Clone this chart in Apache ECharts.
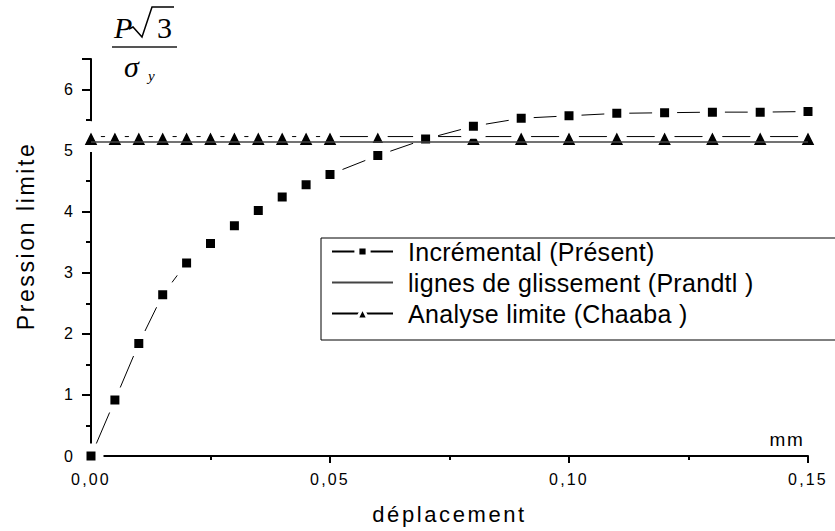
<!DOCTYPE html>
<html>
<head>
<meta charset="UTF-8" />
<title>Pression limite</title>
<script src="https://cdn.jsdelivr.net/npm/echarts@6/dist/echarts.min.js"></script>
<style>
  body { margin: 0; padding: 0; background: #fff; }
  #main { width: 835px; height: 531px; }
  /* Origin export spaces its letters out a bit */
  #main text[style*="16px"] { letter-spacing: 2.2px; }
  #main text[style*="22px"] { letter-spacing: 2.6px; }
  #main text[style*="23px"] { letter-spacing: 2.6px; }
  #main text[style*="25px"] { letter-spacing: 0.3px; }
  #main text[style*="19px"] { letter-spacing: 1.6px; }
  #main text[style*="Serif"] { letter-spacing: 0; }
</style>
</head>
<body>
<div id="main"></div>
<script>
  // displacement (mm)
  var dispX = [0, 0.005, 0.01, 0.015, 0.02, 0.025, 0.03, 0.035, 0.04, 0.045, 0.05,
               0.06, 0.07, 0.08, 0.09, 0.10, 0.11, 0.12, 0.13, 0.14, 0.15];
  var incremental = [0, 0.915, 1.84, 2.64, 3.16, 3.48, 3.77, 4.02, 4.24, 4.44, 4.61,
                     4.92, 5.19, 5.40, 5.53, 5.57, 5.61, 5.62, 5.63, 5.63, 5.64];
  var chaaba = 5.23;
  var prandtl = 5.14;
  var prandtlX = [0, 0.15];
  var names = ["Incrémental (Présent)", "lignes de glissement (Prandtl )", "Analyse limite (Chaaba )"];

  var sans = "Liberation Sans";
  var chart = echarts.init(document.getElementById("main"), null, { renderer: "svg" });

  var option = {
    animation: false,
    backgroundColor: "#fff",
    grid: { left: 91, right: 27, top: 59, bottom: 75 },
    legend: {
      orient: "vertical",
      left: 321,
      top: 238,
      data: [
        { name: names[0], itemStyle: { borderWidth: 5, borderColor: "#fff" } },
        { name: names[1], itemStyle: { opacity: 0, borderWidth: 0 } },
        { name: names[2], itemStyle: { borderWidth: 3, borderColor: "#fff" } }
      ],
      itemWidth: 61,
      itemHeight: 14,
      itemGap: 6,
      padding: [1, 320, 14, 10],
      borderColor: "#000",
      borderWidth: 1,
      backgroundColor: "#fff",
      textStyle: { fontFamily: sans, fontSize: 25, color: "#000", padding: [0, 0, 0, 10] }
    },
    xAxis: {
      type: "value",
      min: 0,
      max: 0.15,
      interval: 0.05,
      name: "déplacement",
      nameLocation: "middle",
      nameGap: 47,
      nameTextStyle: { fontFamily: sans, fontSize: 22, color: "#000" },
      axisLine: { lineStyle: { color: "#000", width: 2 } },
      axisTick: { inside: false, length: 7, lineStyle: { color: "#000", width: 2 } },
      minorTick: { show: true, splitNumber: 2, length: 4, lineStyle: { color: "#000", width: 2 } },
      splitLine: { show: false },
      axisLabel: {
        margin: 15,
        fontFamily: sans,
        fontSize: 16,
        color: "#000",
        formatter: function (v) { return v.toFixed(2).replace(".", ","); }
      }
    },
    yAxis: {
      type: "value",
      min: 0,
      max: 6.5,
      interval: 1,
      axisLine: { show: true, lineStyle: { color: "#000", width: 2 } },
      axisTick: { show: true, length: 9, lineStyle: { color: "#000", width: 2 } },
      minorTick: { show: true, splitNumber: 2, length: 5, lineStyle: { color: "#000", width: 2 } },
      splitLine: { show: false },
      axisLabel: { margin: 16, fontFamily: sans, fontSize: 16, color: "#000", showMaxLabel: false }
    },
    graphic: [
      // y axis title sits above the middle of the axis in the original
      { type: "text", x: 26, y: 236, rotation: Math.PI / 2, style: { text: "Pression limite", font: '23px "Liberation Sans"', fill: "#000", align: "center", verticalAlign: "middle" } },
      // P√3 / σy
      { type: "text", x: 114, y: 27, style: { text: "P", font: 'italic 30px "Liberation Serif"', fill: "#000", align: "left", verticalAlign: "middle" } },
      { type: "polyline", shape: { points: [[129, 29], [133, 27], [142, 37], [152, 7], [174, 7]] }, style: { stroke: "#000", lineWidth: 1.5, fill: null } },
      { type: "text", x: 157, y: 27, style: { text: "3", font: '30px "Liberation Serif"', fill: "#000", align: "left", verticalAlign: "middle" } },
      { type: "line", shape: { x1: 112, y1: 47, x2: 177, y2: 47 }, style: { stroke: "#555", lineWidth: 2 } },
      { type: "text", x: 124, y: 66, style: { text: "σ", font: 'italic 30px "Liberation Serif"', fill: "#000", align: "left", verticalAlign: "middle" } },
      { type: "text", x: 148, y: 76, style: { text: "y", font: 'italic 15px "Liberation Serif"', fill: "#000", align: "left", verticalAlign: "middle" } },
      { type: "text", x: 787, y: 439, style: { text: "mm", font: '19px "Liberation Sans"', fill: "#000", align: "center", verticalAlign: "middle" } }
    ],
    series: [
      {
        name: names[2],
        type: "line",
        z: 2,
        data: dispX.map(function (x) { return [x, chaaba]; }),
        symbol: "triangle",
        symbolSize: 24,
        itemStyle: { color: "#000", borderColor: "#fff", borderWidth: 7, borderJoin: "round" },
        lineStyle: { color: "#000", width: 1 }
      },
      {
        name: names[0],
        type: "line",
        z: 3,
        data: dispX.map(function (x, i) { return [x, incremental[i]]; }),
        symbol: "rect",
        symbolSize: 17,
        itemStyle: { color: "#000", borderColor: "#fff", borderWidth: 8, borderJoin: "round" },
        lineStyle: { color: "#000", width: 1 }
      },
      {
        name: names[1],
        type: "line",
        z: 4,
        data: prandtlX.map(function (x) { return [x, prandtl]; }),
        symbol: "none",
        itemStyle: { color: "#444" },
        lineStyle: { color: "#444", width: 1.5 }
      }
    ]
  };

  chart.setOption(option);
</script>
</body>
</html>
